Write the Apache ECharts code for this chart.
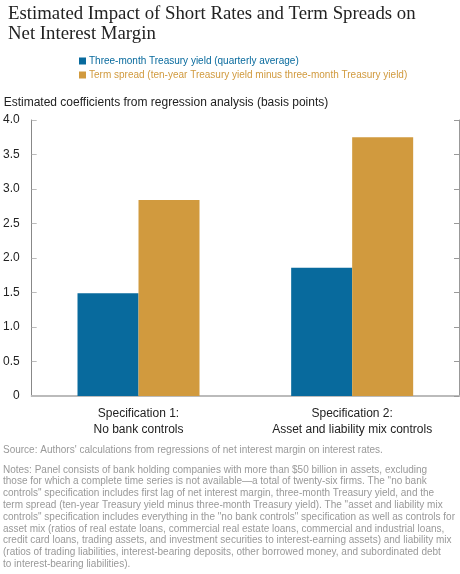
<!DOCTYPE html>
<html>
<head>
<meta charset="utf-8">
<script src="https://cdn.jsdelivr.net/npm/echarts@6/dist/echarts.min.js"></script>
<style>html,body{margin:0;padding:0;background:#fff;}#c{width:460px;height:574px;}</style>
</head>
<body>
<div id="c"></div>
<script>
const categories = ['Specification 1:\nNo bank controls', 'Specification 2:\nAsset and liability mix controls'];
const seriesNames = ['Three-month Treasury yield (quarterly average)', 'Term spread (ten-year Treasury yield minus three-month Treasury yield)'];
const shortRate = [1.49, 1.86];
const termSpread = [2.84, 3.75];
const yTicks = ['0', '0.5', '1.0', '1.5', '2.0', '2.5', '3.0', '3.5', '4.0'];
const titleText = 'Estimated Impact of Short Rates and Term Spreads on\nNet Interest Margin';
const yName = 'Estimated coefficients from regression analysis (basis points)';
const sourceText = "Source: Authors' calculations from regressions of net interest margin on interest rates.";
const notesLines = [
  'Notes: Panel consists of bank holding companies with more than $50 billion in assets, excluding',
  'those for which a complete time series is not available\u2014a total of twenty-six firms. The "no bank',
  'controls" specification includes first lag of net interest margin, three-month Treasury yield, and the',
  'term spread (ten-year Treasury yield minus three-month Treasury yield). The "asset and liability mix',
  'controls" specification includes everything in the "no bank controls" specification as well as controls for',
  'asset mix (ratios of real estate loans, commercial real estate loans, commercial and industrial loans,',
  'credit card loans, trading assets, and investment securities to interest-earning assets) and liability mix',
  '(ratios of trading liabilities, interest-bearing deposits, other borrowed money, and subordinated debt',
  'to interest-bearing liabilities).'
];
const colors = ['#086a9d', '#d19a3e'];
const sans = 'Liberation Sans, Arial, sans-serif';

const chart = echarts.init(document.getElementById('c'), null, {renderer: 'canvas'});
chart.setOption({
  animation: false,
  backgroundColor: '#fff',
  textStyle: {fontFamily: sans},
  title: {
    text: titleText, left: 3, top: -1,
    textStyle: {fontFamily: 'Liberation Serif, Times New Roman, serif', fontSize: 18.8, fontWeight: 'normal', color: '#222', lineHeight: 20}
  },
  legend: {
    orient: 'vertical', left: 74, top: 51, itemWidth: 7, itemHeight: 7, itemGap: 4,
    icon: 'rect',
    textStyle: {fontFamily: sans, fontSize: 10, padding: [0, 0, 0, -2]},
    data: [
      {name: seriesNames[0], textStyle: {color: colors[0]}},
      {name: seriesNames[1], textStyle: {color: colors[1]}}
    ]
  },
  grid: {left: 31, right: 1, top: 120, bottom: 178, containLabel: false},
  xAxis: [{
    type: 'category', data: categories, position: 'bottom',
    axisLine: {lineStyle: {color: '#888', width: 1}},
    axisTick: {inside: true, length: 4, lineStyle: {color: '#777'}},
    axisLabel: {color: '#222', fontSize: 12, lineHeight: 16, margin: 10, fontFamily: sans}
  }, {
    type: 'category', data: categories, position: 'top',
    axisLine: {lineStyle: {color: '#bbb', width: 2}},
    axisTick: {show: false}, axisLabel: {show: false}
  }],
  yAxis: [{
    type: 'value', min: 0, max: 4, interval: 0.5, position: 'left',
    name: yName, nameLocation: 'end', nameGap: 11,
    nameTextStyle: {align: 'left', padding: [0, 0, 0, -28], color: '#222', fontSize: 12, fontFamily: sans},
    axisLine: {show: true, lineStyle: {color: '#888'}},
    axisTick: {show: true, inside: true, length: 5, lineStyle: {color: '#bbb'}},
    splitLine: {show: false},
    axisLabel: {color: '#222', fontSize: 12, margin: 12, fontFamily: sans,
      formatter: v => yTicks[Math.round(v * 2)]}
  }, {
    type: 'value', min: 0, max: 4, interval: 0.5, position: 'right',
    axisLine: {show: true, lineStyle: {color: '#999'}},
    axisTick: {show: true, inside: true, length: 5, lineStyle: {color: '#999'}},
    splitLine: {show: false}, axisLabel: {show: false}
  }],
  series: [{
    name: seriesNames[0], type: 'bar', data: shortRate, barWidth: 61, barGap: '0%',
    itemStyle: {color: colors[0]}
  }, {
    name: seriesNames[1], type: 'bar', data: termSpread, barWidth: 61, barGap: '0%',
    itemStyle: {color: colors[1]}
  }],
  graphic: [{
    type: 'text', left: 3, top: 445,
    style: {text: sourceText, fill: '#999', font: '10px ' + sans}
  }, {
    type: 'text', left: 3, top: 464,
    style: {text: notesLines.join('\n'), fill: '#999', font: '10px ' + sans, lineHeight: 11.8}
  }]
});
</script>
</body>
</html>
